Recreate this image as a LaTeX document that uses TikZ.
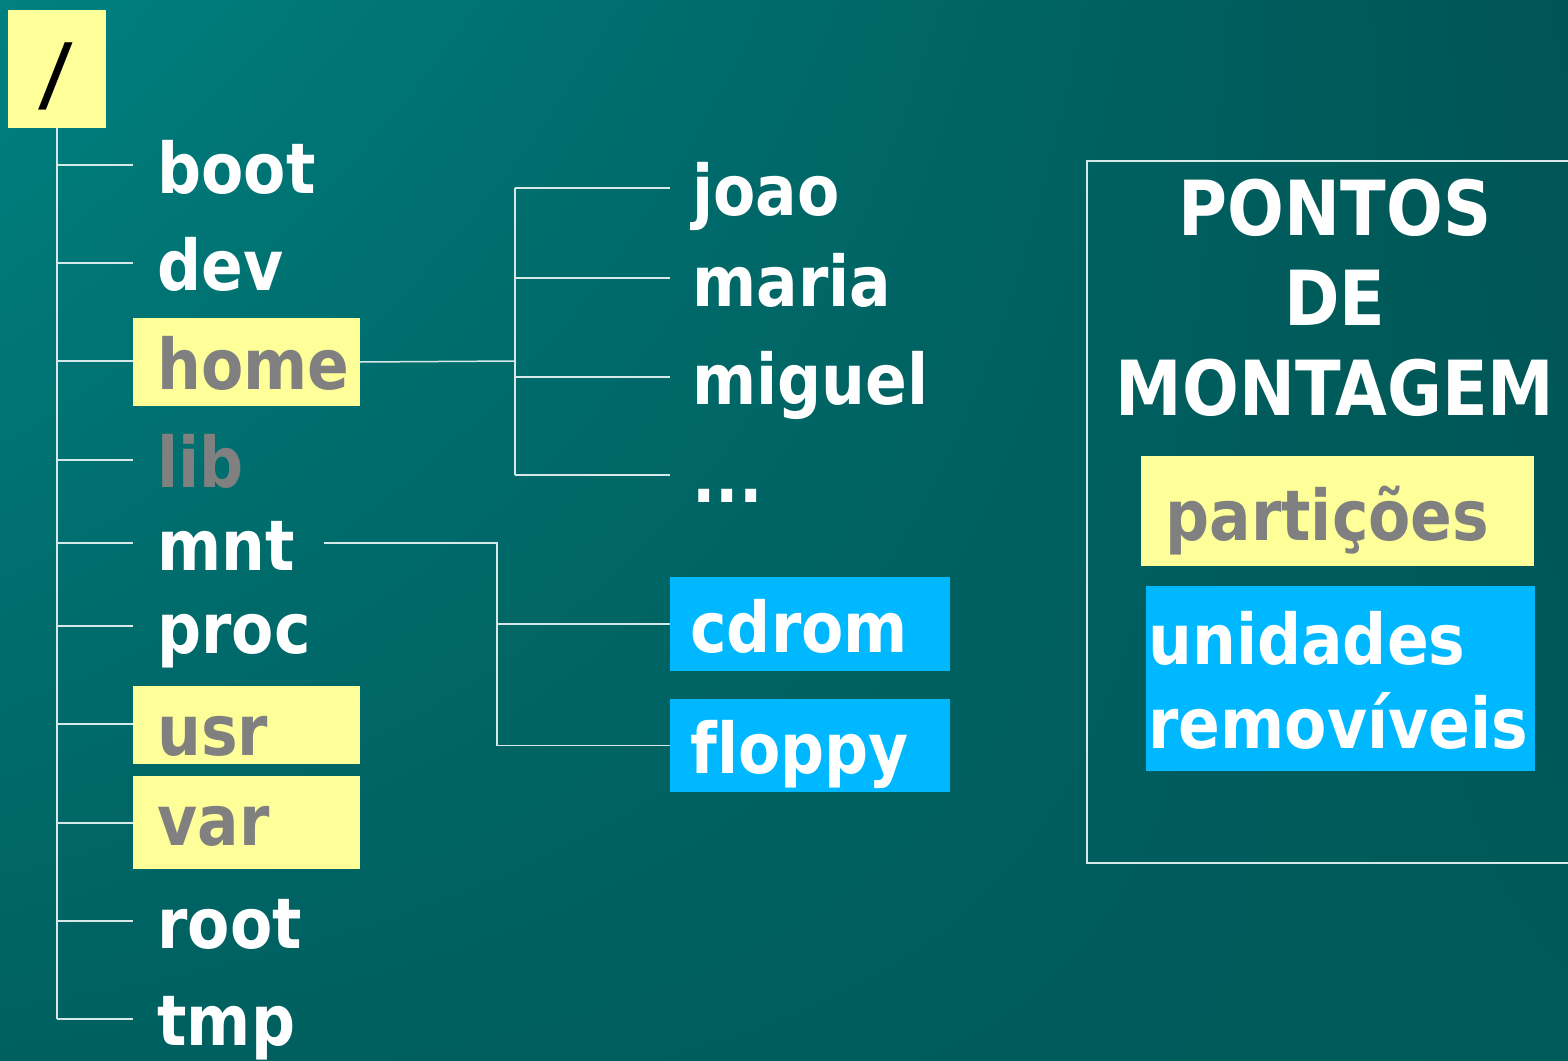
\documentclass[tikz,border=0pt]{standalone}
\usepackage{fontspec}
\usetikzlibrary{shadings}
\newfontfamily\vb{DejaVu Sans}[FakeStretch=0.88, Ligatures=NoCommon]
\definecolor{yel}{RGB}{255,255,153}
\definecolor{sky}{RGB}{0,184,255}
\definecolor{gtxt}{RGB}{128,128,128}
\definecolor{lnc}{RGB}{215,232,232}
\definecolor{bgUL}{RGB}{0,128,128}
\definecolor{bgUR}{RGB}{0,84,84}
\definecolor{bgLL}{RGB}{0,96,96}
\definecolor{bgLR}{RGB}{0,90,90}
\tikzset{
  ln/.style={draw=lnc, line width=0.75pt},
  item/.style={font=\vb\bfseries\fontsize{35}{42}\selectfont, text=white, anchor=base west, inner sep=0pt},
  gitem/.style={item, text=gtxt},
  ttl/.style={font=\vb\bfseries\fontsize{38}{45}\selectfont, text=white, anchor=base, inner sep=0pt},
  fbox/.style={inner sep=0pt, outer sep=0pt, anchor=north west, draw=none},
  ybox/.style={fbox, fill=yel},
  bbox/.style={fbox, fill=sky},
}
\begin{document}
\begin{tikzpicture}[x=0.5pt,y=-0.5pt]
\useasboundingbox (0,0) rectangle (1568,1060);
\shade[upper left=bgUL, upper right=bgUR, lower left=bgLL, lower right=bgLR] (0,0) rectangle (1568,1060);

% highlight boxes
\node[ybox, minimum width=49pt, minimum height=59pt] (rootbox) at (8,10) {};
\node[ybox, minimum width=113.5pt, minimum height=44pt] (homebox) at (133,318) {};
\node[ybox, minimum width=113.5pt, minimum height=39pt] (usrbox) at (133,686) {};
\node[ybox, minimum width=113.5pt, minimum height=46.5pt] (varbox) at (133,776) {};
\node[bbox, minimum width=140pt, minimum height=47pt] (cdrombox) at (670,577) {};
\node[bbox, minimum width=140pt, minimum height=46.5pt] (floppybox) at (670,699) {};
\node[ybox, minimum width=196.5pt, minimum height=55pt] (partbox) at (1141,456) {};
\node[bbox, minimum width=194.5pt, minimum height=92.5pt] (unibox) at (1146,586) {};

% root label
\node[font=\vb\bfseries\fontsize{41}{48}\selectfont, text=black, inner sep=0pt, xslant=0.12] (slash) at (56,76) {/};

% first-level items
\node[item] (boot) at (157,193) {boot};
\node[item] (dev) at (157,290) {dev};
\node[gitem] (home) at (157,389) {home};
\node[gitem] (lib) at (157,487) {lib};
\node[item] (mnt) at (157,570) {mnt};
\node[item] (proc) at (157,653) {proc};
\node[gitem] (usr) at (157,755) {usr};
\node[gitem] (var) at (157,845) {var};
\node[item] (root) at (157,948) {root};
\node[item] (tmp) at (157,1045) {tmp};

% second level
\node[item] (joao) at (692,215) {joao};
\node[item] (maria) at (692,306) {maria};
\node[item] (miguel) at (692,404) {miguel};
\node[item] (dots) at (692,502) {...};
\node[item] (cdrom) at (690,652) {cdrom};
\node[item] (floppy) at (690,773) {floppy};

% tree coordinates
\coordinate (trunkEnd) at (57,1019);
\foreach \n/\y in {boot/165, dev/263, home/361, lib/460, mnt/543, proc/626, usr/724, var/823, root/921, tmp/1019}{
  \coordinate (t-\n) at (57,\y);
  \coordinate (e-\n) at (133,\y);
}
\coordinate (hsplit) at (515,361);
\foreach \n/\y in {joao/188, maria/278, miguel/377, dots/475}{
  \coordinate (s-\n) at (515,\y);
  \coordinate (f-\n) at (670,\y);
}
\coordinate (mntStart) at (324,543);
\coordinate (msplit) at (497,543);
\coordinate (m-cdrom) at (msplit |- cdrombox.west);
\coordinate (m-floppy) at (msplit |- floppybox.west);

% connectors
\draw[ln] (rootbox.south) -- (trunkEnd);
\foreach \n in {boot,dev,home,lib,mnt,proc,usr,var,root,tmp}{
  \draw[ln] (t-\n) -- (e-\n);
}
\draw[ln] (homebox.east) -- (hsplit);
\draw[ln] (s-joao) -- (s-dots);
\foreach \n in {joao,maria,miguel,dots}{
  \draw[ln] (s-\n) -- (f-\n);
}
\draw[ln] (mntStart) -- (msplit) -- (m-floppy);
\draw[ln] (m-cdrom) -- (cdrombox.west);
\draw[ln] (m-floppy) -- (floppybox.west);

% mount point panel
\draw[ln] (1568,161) -- (1087,161) -- (1087,863) -- (1568,863);
\node[ttl] (t1) at (1335,235) {PONTOS};
\node[ttl] (t2) at (1335,325) {DE};
\node[ttl] (t3) at (1335,415) {MONTAGEM};
\node[gitem] (part) at (1165,540) {partições};
\node[item] (uni1) at (1148,664) {unidades};
\node[item] (uni2) at (1148,748) {removíveis};
\end{tikzpicture}
\end{document}
